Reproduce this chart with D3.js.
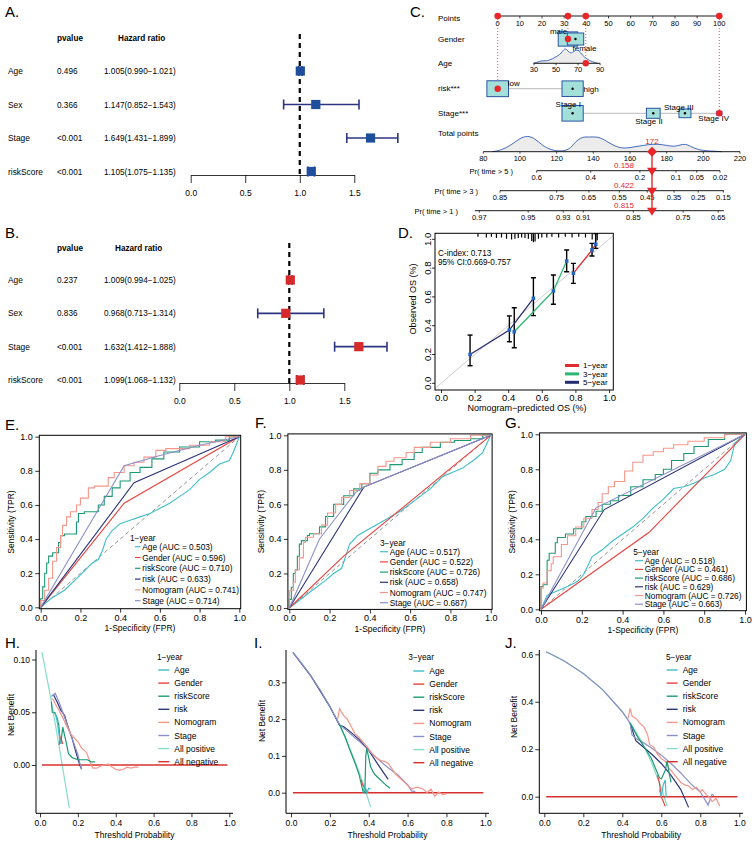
<!DOCTYPE html>
<html><head><meta charset="utf-8">
<script src="https://cdn.jsdelivr.net/npm/d3@7"></script>
<style>body{margin:0;background:#fff}</style>
</head><body><svg id="c" width="756" height="842" xmlns="http://www.w3.org/2000/svg"></svg>
<script>
// ---------------- DATA ----------------
// Forest plots (A: univariate, B: multivariate)
const forestVars = ["Age","Sex","Stage","riskScore"];
const uniP = ["0.496","0.366","<0.001","<0.001"];
const uniHR = [1.005,1.147,1.649,1.105];
const uniLow = [0.990,0.852,1.431,1.075];
const uniHigh = [1.021,1.543,1.899,1.135];
const multiP = ["0.237","0.836","<0.001","<0.001"];
const multiHR = [1.009,0.968,1.632,1.099];
const multiLow = [0.994,0.713,1.412,1.068];
const multiHigh = [1.025,1.314,1.888,1.132];
const hrTicks = [0,0.5,1,1.5];

// Nomogram (C)
const pointsTicks = [0,10,20,30,40,50,60,70,80,90,100];
const genderLevels = ["male","female"];
const genderPoints = [31.7,35.1];
const genderWeight = [0.42,0.30];
const ageTicks = [30,50,70,90];
const ageToPoints = [16.4,46.2];          // points at age 30 and age 90
const ageDensity = [[29,0],[32,0.05],[35,0.12],[38,0.18],[41,0.15],[44,0.22],[47,0.3],[50,0.45],[53,0.55],[56,0.8],[58,1.0],[60,0.9],[62,0.72],[64,0.68],[66,0.78],[68,0.88],[70,0.9],[72,0.72],[74,0.55],[76,0.4],[78,0.3],[80,0.2],[83,0.1],[86,0.05],[88,0]];
const riskLevels = ["low","high"];
const riskPoints = [0,33.8];
const riskWeight = [0.52,0.50];
const stageLevels = ["Stage I","Stage II","Stage III","Stage IV"];
const stagePoints = [33.8,70.2,84.5,100];
const stageWeight = [0.50,0.21,0.16,0.03];
const totalTicks = [80,100,120,140,160,180,200,220];
const totalDensity = [[85,0],[90,0.1],[95,0.4],[100,0.85],[104,1.0],[108,0.85],[112,0.4],[117,0.1],[122,0.02],[127,0.12],[130,0.6],[134,0.95],[138,0.9],[142,0.95],[146,0.75],[150,0.45],[155,0.2],[160,0.25],[165,0.35],[170,0.45],[175,0.48],[180,0.4],[184,0.3],[188,0.45],[191,0.48],[195,0.2],[200,0.06],[205,0.04],[210,0]];
const selected = {gender:31.7, age:77, risk:0, stage:100, total:172};
const pr5Ticks = [0.6,0.4,0.2,0.1,0.05,0.02];
const pr5Pts = [109.1,138.6,165.4,185.1,196.4,209.1];
const pr3Ticks = [0.85,0.75,0.65,0.55,0.45,0.35,0.25,0.15];
const pr3Pts = [89.1,120,137.6,154.2,169.4,184,197.2,210.9];
const pr1Ticks = [0.97,0.95,0.93,0.91,0.85,0.75,0.65];
const pr1Pts = [77.8,104.5,123.6,134.5,161.8,189,208.1];
const prRange = [[109.1,209.1],[89.1,211.2],[75.4,211.2]];
const prLabels = ["Pr( time > 5 )","Pr( time > 3 )","Pr( time > 1 )"];
const prValues = ["0.158","0.422","0.815"];

// Calibration (D): [predicted, observed, lower, upper]
const cal1 = [[0.788,0.764,0.694,0.833],[0.899,0.926,0.884,0.972],[0.921,0.965,0.937,1.04]];
const cal3 = [[0.436,0.358,0.247,0.525],[0.669,0.641,0.549,0.752],[0.748,0.849,0.775,0.926]];
const cal5 = [[0.173,0.20,0.122,0.335],[0.407,0.37,0.289,0.468],[0.55,0.59,0.47,0.733]];
const calRug = [[0.22,0.2],[0.27,0.3],[0.3,0.2],[0.33,0.4],[0.36,0.3],[0.39,0.5],[0.42,0.6],[0.44,0.5],[0.46,0.4],[0.48,0.3],[0.5,0.4],[0.52,0.5],[0.54,0.8],[0.55,1.0],[0.56,0.9],[0.58,0.5],[0.6,0.3],[0.63,0.3],[0.66,0.2],[0.7,0.3],[0.74,0.2],[0.78,0.3],[0.82,0.2],[0.86,0.3],[0.9,0.6],[0.92,0.9],[0.93,0.7]];
const calTicks = [0,0.2,0.4,0.6,0.8,1.0];
const cIndexText = ["C-index:  0.713","95% CI:0.669-0.757"];

// ROC (E,F,G)
const modelNames = ["Age","Gender","riskScore","risk","Nomogram","Stage"];
const auc1 = ["0.503","0.596","0.710","0.633","0.741","0.714"];
const auc3 = ["0.517","0.522","0.726","0.658","0.747","0.687"];
const auc5 = ["0.518","0.461","0.686","0.629","0.726","0.663"];
const rocTicks = [0,0.2,0.4,0.6,0.8,1.0];

const roc1Age = [[0,0],[0.05,0.05],[0.12,0.1],[0.2,0.19],[0.26,0.26],[0.29,0.28],[0.31,0.33],[0.33,0.4],[0.36,0.45],[0.4,0.49],[0.45,0.51],[0.5,0.53],[0.55,0.55],[0.6,0.58],[0.65,0.61],[0.7,0.65],[0.75,0.69],[0.8,0.75],[0.85,0.79],[0.9,0.84],[0.95,0.86],[0.97,0.91],[1,1]];
const roc1Gender = [[0,0],[0.42,0.61],[1,1]];
const roc1RiskScore = [[0,0],[0.01,0.05],[0.02,0.12],[0.03,0.2],[0.04,0.26],[0.06,0.3],[0.09,0.32],[0.1,0.38],[0.12,0.42],[0.18,0.43],[0.19,0.5],[0.22,0.55],[0.29,0.56],[0.32,0.6],[0.36,0.65],[0.4,0.7],[0.45,0.74],[0.5,0.79],[0.56,0.82],[0.62,0.87],[0.7,0.91],[0.8,0.94],[0.88,0.97],[0.95,0.98],[1,1]];
const roc1Risk = [[0,0],[0.47,0.73],[1,1]];
const roc1Nomogram = [[0,0],[0.02,0.04],[0.04,0.1],[0.06,0.17],[0.08,0.27],[0.1,0.35],[0.11,0.42],[0.13,0.48],[0.15,0.53],[0.18,0.56],[0.2,0.6],[0.24,0.64],[0.27,0.7],[0.34,0.71],[0.37,0.76],[0.42,0.79],[0.47,0.83],[0.52,0.85],[0.58,0.88],[0.63,0.92],[0.75,0.93],[0.85,0.95],[0.93,0.97],[1,1]];
const roc1Stage = [[0,0],[0.42,0.83],[0.6,0.89],[0.8,0.95],[1,1]];

const roc3Age = [[0,0],[0.1,0.09],[0.18,0.16],[0.22,0.2],[0.26,0.23],[0.28,0.3],[0.3,0.37],[0.34,0.42],[0.4,0.46],[0.46,0.5],[0.55,0.56],[0.62,0.62],[0.7,0.69],[0.76,0.76],[0.82,0.79],[0.86,0.81],[0.92,0.86],[0.96,0.9],[1,1]];
const roc3Gender = [[0,0],[0.27,0.3],[1,1]];
const roc3RiskScore = [[0,0],[0.01,0.05],[0.02,0.12],[0.03,0.2],[0.04,0.22],[0.05,0.3],[0.06,0.37],[0.09,0.39],[0.1,0.42],[0.15,0.43],[0.18,0.47],[0.22,0.53],[0.27,0.6],[0.32,0.65],[0.36,0.69],[0.4,0.72],[0.44,0.78],[0.5,0.8],[0.56,0.83],[0.62,0.86],[0.66,0.9],[0.75,0.93],[0.82,0.96],[0.9,0.97],[0.96,0.98],[1,1]];
const roc3Risk = [[0,0],[0.37,0.7],[1,1]];
const roc3Nomogram = [[0,0],[0.02,0.1],[0.03,0.15],[0.05,0.22],[0.07,0.29],[0.08,0.38],[0.12,0.41],[0.16,0.43],[0.19,0.48],[0.23,0.55],[0.26,0.6],[0.3,0.64],[0.35,0.68],[0.4,0.72],[0.44,0.77],[0.48,0.82],[0.52,0.85],[0.58,0.87],[0.62,0.9],[0.7,0.93],[0.8,0.96],[0.9,0.98],[1,1]];
const roc3Stage = [[0,0],[0.15,0.4],[0.25,0.55],[0.33,0.67],[0.37,0.7],[1,1]];

const roc5Age = [[0,0],[0.03,0.08],[0.07,0.1],[0.13,0.13],[0.18,0.16],[0.21,0.2],[0.23,0.25],[0.25,0.3],[0.3,0.34],[0.35,0.39],[0.4,0.43],[0.45,0.47],[0.5,0.52],[0.55,0.58],[0.6,0.63],[0.65,0.69],[0.7,0.7],[0.75,0.72],[0.8,0.75],[0.85,0.77],[0.9,0.8],[0.93,0.85],[0.95,0.95],[1,1]];
const roc5Gender = [[0,0],[0.53,0.44],[1,1]];
const roc5RiskScore = [[0,0],[0.01,0.13],[0.03,0.14],[0.04,0.28],[0.07,0.32],[0.08,0.38],[0.12,0.41],[0.16,0.43],[0.2,0.46],[0.22,0.5],[0.27,0.53],[0.3,0.56],[0.34,0.6],[0.38,0.62],[0.44,0.65],[0.5,0.7],[0.56,0.74],[0.6,0.77],[0.64,0.8],[0.7,0.85],[0.75,0.89],[0.82,0.93],[0.9,0.97],[1,1]];
const roc5Risk = [[0,0],[0.31,0.57],[1,1]];
const roc5Nomogram = [[0,0],[0.01,0.12],[0.03,0.15],[0.05,0.22],[0.06,0.26],[0.1,0.3],[0.13,0.37],[0.17,0.42],[0.21,0.47],[0.25,0.52],[0.28,0.57],[0.3,0.61],[0.33,0.66],[0.36,0.7],[0.41,0.73],[0.45,0.79],[0.5,0.84],[0.55,0.88],[0.6,0.9],[0.65,0.92],[0.72,0.94],[0.8,0.96],[0.9,0.98],[1,1]];
const roc5Stage = [[0,0],[0.27,0.58],[1,1]];

// DCA (H,I,J)
const dcaNames = ["Age","Gender","riskScore","risk","Nomogram","Stage","All positive","All negative"];
const dcaXTicks = [0,0.2,0.4,0.6,0.8,1.0];
const dcaNeg = [[0.01,0],[0.99,0]];

const dca1Age = [[0.08,0.05],[0.09,0.042],[0.1,0.03],[0.11,0.02]];
const dca1Gender = [[0.1,0.019],[0.11,0.026],[0.12,0.02]];
const dca1RiskScore = [[0.06,0.06],[0.065,0.05],[0.075,0.05],[0.09,0.045],[0.1,0.037],[0.105,0.025],[0.11,0.02],[0.12,0.036],[0.13,0.028],[0.14,0.02],[0.15,0.011],[0.17,0.007],[0.2,0.005],[0.25,0.005],[0.27,0.003],[0.29,0.003]];
const dca1Risk = [[0.07,0.067],[0.09,0.06],[0.11,0.052],[0.13,0.047],[0.15,0.035],[0.17,0.025],[0.19,0.012],[0.21,0.0],[0.22,-0.004]];
const dca1Nomogram = [[0.06,0.063],[0.07,0.062],[0.08,0.058],[0.1,0.052],[0.12,0.045],[0.14,0.037],[0.16,0.03],[0.18,0.026],[0.2,0.022],[0.22,0.016],[0.24,0.013],[0.25,0.01],[0.26,0.005],[0.27,0.0],[0.28,-0.003],[0.3,-0.003],[0.32,-0.001],[0.34,0.0],[0.36,0.001],[0.38,-0.002],[0.4,-0.004],[0.42,-0.005],[0.44,-0.004],[0.46,-0.002],[0.48,-0.003],[0.5,-0.002],[0.52,-0.002]];
const dca1Stage = [[0.06,0.065],[0.08,0.068],[0.1,0.06],[0.12,0.05],[0.14,0.04],[0.16,0.03],[0.18,0.02],[0.2,0.01],[0.21,0.002],[0.22,-0.004]];
const dca1AllPos = [[0.01,0.107],[0.05,0.07],[0.1,0.019],[0.12,-0.003],[0.155,-0.041]];
const dca1YTicks = [0,0.05,0.10];

const dca3Age = [[0.37,0.0],[0.38,0.02],[0.39,0.0],[0.4,0.012],[0.41,0.01]];
const dca3Gender = [[0.36,0.035],[0.37,0.02],[0.39,0.005],[0.4,0.0]];
const dca3RiskScore = [[0.25,0.185],[0.28,0.15],[0.3,0.12],[0.33,0.08],[0.35,0.05],[0.37,0.005],[0.38,0.0],[0.385,0.1],[0.39,0.12],[0.4,0.095],[0.41,0.07],[0.43,0.05],[0.45,0.04],[0.47,0.03],[0.49,0.02],[0.51,0.012]];
const dca3Risk = [[0.01,0.381],[0.1,0.319],[0.2,0.234],[0.25,0.183],[0.27,0.18],[0.3,0.168],[0.35,0.145],[0.4,0.115],[0.45,0.075],[0.5,0.036]];
const dca3Nomogram = [[0.24,0.2],[0.25,0.228],[0.27,0.21],[0.29,0.2],[0.31,0.18],[0.33,0.16],[0.35,0.15],[0.37,0.138],[0.4,0.12],[0.42,0.105],[0.44,0.095],[0.46,0.088],[0.48,0.085],[0.5,0.08],[0.52,0.065],[0.54,0.05],[0.56,0.04],[0.58,0.03],[0.6,0.02],[0.62,0.01],[0.65,0.015],[0.68,0.01],[0.7,0.0],[0.72,0.01],[0.74,-0.01],[0.76,0.002],[0.78,-0.005],[0.8,-0.003]];
const dca3Stage = [[0.01,0.381],[0.05,0.355],[0.1,0.319],[0.15,0.279],[0.2,0.234],[0.25,0.185],[0.3,0.163],[0.35,0.14],[0.4,0.115],[0.45,0.09],[0.5,0.068],[0.55,0.048],[0.6,0.022],[0.62,0.005],[0.64,0.003]];
const dca3AllPos = [[0.01,0.381],[0.05,0.355],[0.1,0.319],[0.15,0.279],[0.2,0.234],[0.25,0.183],[0.3,0.124],[0.35,0.057],[0.38,0.011],[0.41,-0.039]];
const dca3YTicks = [0,0.1,0.2,0.3];

const dca5Age = [[0.59,0.03],[0.6,0.0],[0.61,0.05],[0.62,0.07],[0.625,0.0]];
const dca5Gender = [[0.58,0.09],[0.59,0.06],[0.6,0.0],[0.62,-0.04]];
const dca5RiskScore = [[0.44,0.31],[0.48,0.25],[0.52,0.2],[0.55,0.16],[0.57,0.12],[0.59,0.08],[0.6,0.075],[0.62,0.11],[0.63,0.15],[0.64,0.1],[0.65,0.06]];
const dca5Risk = [[0.44,0.31],[0.47,0.235],[0.5,0.215],[0.55,0.18],[0.6,0.14],[0.65,0.09],[0.7,0.03],[0.74,-0.045]];
const dca5Nomogram = [[0.43,0.33],[0.44,0.372],[0.45,0.34],[0.47,0.33],[0.49,0.31],[0.51,0.295],[0.53,0.26],[0.54,0.22],[0.56,0.21],[0.58,0.18],[0.6,0.16],[0.62,0.15],[0.64,0.12],[0.66,0.1],[0.68,0.08],[0.7,0.06],[0.72,0.05],[0.74,0.045],[0.76,0.03],[0.78,0.04],[0.8,0.02],[0.81,0.03],[0.83,0.01],[0.85,-0.005],[0.86,-0.02],[0.87,-0.015],[0.88,-0.005],[0.9,-0.04]];
const dca5Stage = [[0.01,0.611],[0.1,0.573],[0.2,0.519],[0.3,0.45],[0.4,0.358],[0.44,0.31],[0.45,0.26],[0.47,0.245],[0.5,0.232],[0.55,0.205],[0.6,0.175],[0.65,0.14],[0.7,0.1],[0.75,0.055],[0.8,0.02],[0.84,-0.035],[0.86,0.01],[0.87,0.005]];
const dca5AllPos = [[0.01,0.611],[0.1,0.573],[0.2,0.519],[0.3,0.45],[0.4,0.358],[0.45,0.3],[0.5,0.23],[0.55,0.144],[0.6,0.037],[0.63,-0.04]];
const dca5YTicks = [0,0.2,0.4,0.6];

// ---------------- STYLE ----------------
const FONT = "'Liberation Sans', Arial, Helvetica, sans-serif";
const modelColors = ["#3dbfc8","#e8443f","#1d9a74","#2b3578","#f5968b","#8c90c6"];
const dcaColors = modelColors.concat(["#86dcc8","#d8302f"]);
const svg = d3.select("#c").attr("font-family", FONT);

function txt(x,y,s,o={}){
  const t = svg.append("text").attr("x",x).attr("y",y).text(s)
    .attr("font-size",o.size||8).attr("text-anchor",o.anchor||"start")
    .attr("fill",o.fill||"#000");
  if(o.weight) t.attr("font-weight",o.weight);
  if(o.rotate) t.attr("transform",`rotate(${o.rotate},${x},${y})`);
  return t;
}
function styleAxis(g,size){
  g.attr("font-family",FONT).attr("font-size",size);
  g.selectAll("path,line").attr("stroke","#000").attr("stroke-width",0.8);
  g.selectAll("text").attr("fill","#000");
}

// panel letters
[["A.",5,17],["B.",5,238],["C.",410,17],["D.",398,238],["E.",5,430],["F.",255,428],["G.",505,428],["H.",5,648],["I.",254,648],["J.",505,648]]
  .forEach(d=>txt(d[1],d[2],d[0],{size:15}));

// ---------------- FOREST ----------------
function forest(c){
  const x = d3.scaleLinear().domain([0,1.5]).range([c.x0,c.x1]);
  const y = d3.scalePoint().domain(forestVars).range([c.r0,c.r1]);
  const fmt = d3.format(".3f");
  txt(57,c.headY,"pvalue",{weight:"bold",size:8.2});
  txt(c.hrHeadX,c.headY,"Hazard ratio",{weight:"bold",size:8.2});
  forestVars.forEach((v,i)=>{
    const yy = y(v)+3;
    txt(8,yy,v,{size:8.4}); txt(57,yy,c.p[i],{size:8.2});
    txt(104,yy,`${fmt(c.hr[i])}(${fmt(c.lo[i])}\u2212${fmt(c.hi[i])})`,{size:8.2});
  });
  svg.append("line").attr("x1",x(1)).attr("x2",x(1)).attr("y1",c.dashTop).attr("y2",c.axisY)
    .attr("stroke","#000").attr("stroke-width",2.2).attr("stroke-dasharray","5,4");
  const g = svg.append("g").attr("transform",`translate(0,${c.axisY})`)
    .call(d3.axisBottom(x).tickValues(hrTicks).tickFormat(d3.format(".1f")).tickSize(8).tickPadding(7).tickSizeOuter(0));
  styleAxis(g,8.5);
  forestVars.forEach((v,i)=>{
    const yy = y(v);
    svg.append("line").attr("x1",x(c.lo[i])).attr("x2",x(c.hi[i])).attr("y1",yy).attr("y2",yy)
      .attr("stroke","#2d3580").attr("stroke-width",1.6);
    [c.lo[i],c.hi[i]].forEach(e=>svg.append("line").attr("x1",x(e)).attr("x2",x(e)).attr("y1",yy-5).attr("y2",yy+5)
      .attr("stroke","#2d3580").attr("stroke-width",1.6));
    svg.append("rect").attr("x",x(c.hr[i])-4.6).attr("y",yy-4.6).attr("width",9.2).attr("height",9.2).attr("fill",c.color);
  });
}
forest({x0:190.7,x1:354.3,r0:71,r1:171.5,headY:41,hrHeadX:118,dashTop:34,axisY:175,
  p:uniP,hr:uniHR,lo:uniLow,hi:uniHigh,color:"#1f4f9c"});
forest({x0:179.3,x1:344.3,r0:280,r1:380,headY:251,hrHeadX:115,dashTop:243,axisY:383,
  p:multiP,hr:multiHR,lo:multiLow,hi:multiHigh,color:"#d62a2a"});

// ---------------- NOMOGRAM ----------------
(function(){
  const xPts = d3.scaleLinear().domain([0,100]).range([497.7,719.3]);
  const xTot = d3.scaleLinear().domain([80,220]).range([483.3,740]);
  const agePts = d3.scaleLinear().domain([30,90]).range(ageToPoints);
  const ageX = a=>xPts(agePts(a));
  const red = "#e8262a", boxFill = "#a3e0da", boxStroke = "#2c54a4";
  const rowY = {points:16, gender:39, age:63.3, risk:88.7, stage:113.3, total:151.7, pr:[170.7,190.7,210.7]};
  [["Points",21],["Gender",42],["Age",66],["risk***",91],["Stage***",116],["Total points",136]].forEach(d=>txt(438,d[1],d[0]));
  svg.append("line").attr("x1",xPts(0)).attr("x2",xPts(100)).attr("y1",rowY.points).attr("y2",rowY.points).attr("stroke","#000").attr("stroke-width",0.9);
  pointsTicks.forEach(t=>{
    svg.append("line").attr("x1",xPts(t)).attr("x2",xPts(t)).attr("y1",rowY.points).attr("y2",rowY.points+2.5).attr("stroke","#000").attr("stroke-width",0.7);
    txt(xPts(t),rowY.points+10,t,{size:7.5,anchor:"middle"});
  });
  [[0,rowY.risk],[selected.gender,rowY.gender],[agePts(selected.age),rowY.age],[selected.stage,rowY.stage]].forEach(d=>{
    svg.append("line").attr("x1",xPts(d[0])).attr("x2",xPts(d[0])).attr("y1",rowY.points).attr("y2",d[1])
      .attr("stroke",red).attr("stroke-width",0.8).attr("stroke-dasharray","1,2");
  });
  function levelRow(levels,pts,wts,yy,labelPos){
    svg.append("line").attr("x1",xPts(d3.min(pts))).attr("x2",xPts(d3.max(pts))).attr("y1",yy).attr("y2",yy).attr("stroke","#bbb").attr("stroke-width",1);
    levels.forEach((l,i)=>{
      const w = 30*Math.sqrt(wts[i]), h = 22*Math.sqrt(wts[i]);
      svg.append("rect").attr("x",xPts(pts[i])-w/2).attr("y",yy-h/2).attr("width",w).attr("height",h)
        .attr("fill",boxFill).attr("stroke",boxStroke).attr("stroke-width",1);
      svg.append("circle").attr("cx",xPts(pts[i])).attr("cy",yy).attr("r",1.2).attr("fill","#000");
      const lp = labelPos[i];
      txt(xPts(pts[i])+lp[0],yy+lp[1],l,{size:8,anchor:lp[2]||"start"});
    });
  }
  levelRow(genderLevels,genderPoints,genderWeight,rowY.gender,[[-18,-5],[-3,12]]);
  levelRow(riskLevels,riskPoints,riskWeight,rowY.risk,[[10,-3],[11,3.5]]);
  levelRow(stageLevels,stagePoints,stageWeight,rowY.stage,[[-17,-6.5],[-18,10.5],[-21,-3.5],[-21,7.5]]);
  const ageArea = d3.area().x(d=>ageX(d[0])).y0(rowY.age).y1(d=>rowY.age-15*d[1]).curve(d3.curveBasis);
  svg.append("path").attr("d",ageArea(ageDensity)).attr("fill","#ececec");
  svg.append("path").attr("d",ageArea.lineY1()(ageDensity)).attr("fill","none").attr("stroke","#2f5bb7").attr("stroke-width",0.9);
  svg.append("line").attr("x1",ageX(30)).attr("x2",ageX(90)).attr("y1",rowY.age).attr("y2",rowY.age).attr("stroke","#000").attr("stroke-width",0.9);
  ageTicks.forEach(t=>{
    svg.append("line").attr("x1",ageX(t)).attr("x2",ageX(t)).attr("y1",rowY.age).attr("y2",rowY.age+2).attr("stroke","#000").attr("stroke-width",0.7);
    txt(ageX(t),rowY.age+9,t,{size:7.5,anchor:"middle"});
  });
  const totArea = d3.area().x(d=>xTot(d[0])).y0(rowY.total).y1(d=>rowY.total-16*d[1]).curve(d3.curveBasis);
  svg.append("path").attr("d",totArea(totalDensity)).attr("fill","#ececec");
  svg.append("path").attr("d",totArea.lineY1()(totalDensity)).attr("fill","none").attr("stroke","#2f5bb7").attr("stroke-width",0.9);
  svg.append("line").attr("x1",xTot(80)).attr("x2",xTot(220)).attr("y1",rowY.total).attr("y2",rowY.total).attr("stroke","#000").attr("stroke-width",0.9);
  totalTicks.forEach(t=>{
    svg.append("line").attr("x1",xTot(t)).attr("x2",xTot(t)).attr("y1",rowY.total).attr("y2",rowY.total+2).attr("stroke","#000").attr("stroke-width",0.7);
    txt(xTot(t),rowY.total+9,t,{size:7.5,anchor:"middle"});
  });
  const prTicks = [pr5Ticks,pr3Ticks,pr1Ticks], prPts=[pr5Pts,pr3Pts,pr1Pts], labelEnd=[513,478,458];
  prTicks.forEach((tk,k)=>{
    const yy = rowY.pr[k];
    svg.append("line").attr("x1",xTot(prRange[k][0])).attr("x2",xTot(prRange[k][1])).attr("y1",yy).attr("y2",yy).attr("stroke","#000").attr("stroke-width",0.9);
    tk.forEach((t,i)=>{
      svg.append("line").attr("x1",xTot(prPts[k][i])).attr("x2",xTot(prPts[k][i])).attr("y1",yy).attr("y2",yy+2).attr("stroke","#000").attr("stroke-width",0.7);
      txt(xTot(prPts[k][i]),yy+9,t,{size:7.5,anchor:"middle"});
    });
    txt(labelEnd[k],yy+3,prLabels[k],{size:7.5,anchor:"end"});
  });
  const tx = xTot(selected.total);
  svg.append("line").attr("x1",tx).attr("x2",tx).attr("y1",rowY.total).attr("y2",rowY.pr[2]+1).attr("stroke",red).attr("stroke-width",1.4);
  svg.append("path").attr("d",`M${tx},${rowY.total-5}L${tx+5},${rowY.total}L${tx},${rowY.total+5}L${tx-5},${rowY.total}Z`).attr("fill",red);
  txt(tx,rowY.total-8,selected.total,{size:8,anchor:"middle",fill:red});
  rowY.pr.forEach((yy,k)=>{
    svg.append("path").attr("d",`M${tx-5},${yy-3}L${tx+5},${yy-3}L${tx},${yy+5}Z`).attr("fill",red);
    txt(tx-28,yy-2.5,prValues[k],{size:8,anchor:"middle",fill:red});
  });
  [0,selected.gender,agePts(selected.age),selected.stage].forEach(p=>
    svg.append("circle").attr("cx",xPts(p)).attr("cy",rowY.points).attr("r",3.3).attr("fill",red));
  [[selected.gender,rowY.gender],[agePts(selected.age),rowY.age],[selected.risk,rowY.risk],[selected.stage,rowY.stage]].forEach(d=>
    svg.append("circle").attr("cx",xPts(d[0])).attr("cy",d[1]).attr("r",3.2).attr("fill",red));
})();

// ---------------- CALIBRATION ----------------
(function(){
  const x = d3.scaleLinear().domain([0,1]).range([441,609]);
  const y = d3.scaleLinear().domain([0,1]).range([383.3,239.3]);
  const bx0=435,bx1=613.3,by0=233.3,by1=390;
  svg.append("clipPath").attr("id","calclip").append("rect").attr("x",bx0).attr("y",by0).attr("width",bx1-bx0).attr("height",by1-by0);
  const gc = svg.append("g").attr("clip-path","url(#calclip)");
  gc.append("line").attr("x1",x(-0.1)).attr("y1",y(-0.1)).attr("x2",x(1.2)).attr("y2",y(1.2)).attr("stroke","#cfcfcf").attr("stroke-width",1);
  calRug.forEach(d=>gc.append("line").attr("x1",x(d[0])).attr("x2",x(d[0])).attr("y1",by0).attr("y2",by0+2+7*d[1]).attr("stroke","#000").attr("stroke-width",1.2));
  const ln = d3.line().x(d=>x(d[0])).y(d=>y(d[1]));
  const series = [[cal1,"#e32b2f"],[cal3,"#2bb673"],[cal5,"#262d6e"]];
  series.forEach(s=>{
    s[0].forEach(d=>{
      gc.append("line").attr("x1",x(d[0])).attr("x2",x(d[0])).attr("y1",y(d[2])).attr("y2",y(d[3])).attr("stroke","#000").attr("stroke-width",1.4);
      [d[2],d[3]].forEach(e=>gc.append("line").attr("x1",x(d[0])-2.5).attr("x2",x(d[0])+2.5).attr("y1",y(e)).attr("y2",y(e)).attr("stroke","#000").attr("stroke-width",1.4));
    });
  });
  series.forEach(s=>gc.append("path").attr("d",ln(s[0])).attr("fill","none").attr("stroke",s[1]).attr("stroke-width",1.3));
  series.forEach(s=>s[0].forEach(d=>gc.append("rect").attr("x",x(d[0])-1.8).attr("y",y(d[1])-1.8).attr("width",3.6).attr("height",3.6).attr("fill","#2466c2")));
  svg.append("rect").attr("x",bx0).attr("y",by0).attr("width",bx1-bx0).attr("height",by1-by0).attr("fill","none").attr("stroke","#000").attr("stroke-width",1);
  const gx = svg.append("g").attr("transform",`translate(0,${by1})`).call(d3.axisBottom(x).tickValues(calTicks).tickFormat(d3.format(".1f")).tickSize(3).tickPadding(1).tickSizeOuter(0));
  styleAxis(gx,9.5); gx.select(".domain").remove();
  calTicks.forEach(t=>{
    svg.append("line").attr("x1",bx0).attr("x2",bx0-3).attr("y1",y(t)).attr("y2",y(t)).attr("stroke","#000").attr("stroke-width",0.8);
    txt(431,y(t),d3.format(".1f")(t),{size:9.5,anchor:"middle",rotate:-90});
  });
  txt(527,411,"Nomogram\u2212predicted OS (%)",{size:9,anchor:"middle"});
  txt(416,299,"Observed OS (%)",{size:9,anchor:"middle",rotate:-90});
  txt(438,256,cIndexText[0],{size:8.2});
  txt(438,265,cIndexText[1],{size:8.2});
  ["1\u2212year","3\u2212year","5\u2212year"].forEach((l,i)=>{
    const yy = 365.5+8.4*i;
    svg.append("line").attr("x1",565).attr("x2",579).attr("y1",yy).attr("y2",yy).attr("stroke",series[i][1]).attr("stroke-width",3);
    txt(583,yy+2.8,l,{size:8});
  });
})();

// ---------------- ROC ----------------
function rocPanel(p){
  const x = d3.scaleLinear().domain([0,1]).range([p.x0,p.x1]);
  const y = d3.scaleLinear().domain([0,1]).range([p.y0,p.y1]);
  const pad = 1.4;
  svg.append("line").attr("x1",x(0)).attr("y1",y(0)).attr("x2",x(1)).attr("y2",y(1)).attr("stroke","#8a8a8a").attr("stroke-width",0.9).attr("stroke-dasharray","4,3");
  p.series.forEach((s,i)=>{
    const ln = d3.line().x(d=>x(d[0])).y(d=>y(d[1])).curve(s.step?d3.curveStepBefore:d3.curveLinear);
    svg.append("path").attr("d",ln(s.data)).attr("fill","none").attr("stroke",modelColors[i]).attr("stroke-width",1.1);
  });
  svg.append("rect").attr("x",x(0)-pad).attr("y",y(1)-pad).attr("width",x(1)-x(0)+2*pad).attr("height",y(0)-y(1)+2*pad)
    .attr("fill","none").attr("stroke","#000").attr("stroke-width",1);
  const gx = svg.append("g").attr("transform",`translate(0,${y(0)+pad})`).call(d3.axisBottom(x).tickValues(rocTicks).tickFormat(d3.format(".1f")).tickSize(4).tickPadding(1.5).tickSizeOuter(0));
  styleAxis(gx,9); gx.select(".domain").remove();
  const gy = svg.append("g").attr("transform",`translate(${x(0)-pad},0)`).call(d3.axisLeft(y).tickValues(rocTicks).tickFormat(d3.format(".1f")).tickSize(4).tickPadding(2.5).tickSizeOuter(0));
  styleAxis(gy,9); gy.select(".domain").remove();
  txt((p.x0+p.x1)/2,y(0)+24,"1-Specificity (FPR)",{size:8.5,anchor:"middle"});
  txt(p.ylabX,(p.y0+p.y1)/2,"Sensitivity (TPR)",{size:8.5,anchor:"middle",rotate:-90});
  txt(p.legX,p.legY+3,p.title,{size:8.3});
  modelNames.forEach((n,i)=>{
    const yy = p.legY+p.legGap0+p.legStep*i;
    const lx = p.legX+p.lineOff;
    svg.append("line").attr("x1",lx).attr("x2",lx+p.lineLen).attr("y1",yy).attr("y2",yy).attr("stroke",modelColors[i]).attr("stroke-width",1.2);
    txt(lx+p.lineLen+1.8,yy+3,`${n} (AUC = ${p.auc[i]})`,{size:8.3});
  });
}
function rocSeries(a,b,c,d,e,f){return [{data:a},{data:b},{data:c,step:true},{data:d},{data:e,step:true},{data:f}];}
rocPanel({x0:40.7,x1:239.3,y0:607.3,y1:436.7,ylabX:14,legX:130,legY:538.3,legGap0:8.4,legStep:10.8,lineOff:5,lineLen:5.5,title:"1\u2212year",auc:auc1,
  series:rocSeries(roc1Age,roc1Gender,roc1RiskScore,roc1Risk,roc1Nomogram,roc1Stage)});
rocPanel({x0:289.3,x1:490.7,y0:608,y1:435.3,ylabX:264,legX:380,legY:542.7,legGap0:9,legStep:10.2,lineOff:0,lineLen:8,title:"3\u2212year",auc:auc3,
  series:rocSeries(roc3Age,roc3Gender,roc3RiskScore,roc3Risk,roc3Nomogram,roc3Stage)});
rocPanel({x0:541,x1:745,y0:609.3,y1:434.3,ylabX:515,legX:633.3,legY:551.7,legGap0:9,legStep:8.7,lineOff:1.7,lineLen:8,title:"5\u2212year",auc:auc5,
  series:rocSeries(roc5Age,roc5Gender,roc5RiskScore,roc5Risk,roc5Nomogram,roc5Stage)});

// ---------------- DCA ----------------
function dcaPanel(p){
  const x = d3.scaleLinear().domain([0,1]).range([p.x0,p.x1]);
  const y = d3.scaleLinear().domain([0,p.yRef]).range([p.y0,p.yRefPx]);
  const ln = d3.line().x(d=>x(d[0])).y(d=>y(d[1]));
  const order = [6,7,3,5,4,2,1,0];
  order.forEach(i=>svg.append("path").attr("d",ln(p.series[i])).attr("fill","none").attr("stroke",dcaColors[i]).attr("stroke-width",i===7?1.6:1.2));
  svg.append("path").attr("d",`M${p.axX},650V${p.axY}H${p.axEnd}`).attr("fill","none").attr("stroke","#000").attr("stroke-width",1);
  const gx = svg.append("g").attr("transform",`translate(0,${p.axY})`).call(d3.axisBottom(x).tickValues(dcaXTicks).tickFormat(d3.format(".1f")).tickSize(4).tickPadding(3).tickSizeOuter(0));
  styleAxis(gx,8.5); gx.select(".domain").remove();
  const gy = svg.append("g").attr("transform",`translate(${p.axX},0)`).call(d3.axisLeft(y).tickValues(p.yTicks).tickFormat(d3.format(p.yFmt)).tickSize(4).tickPadding(2).tickSizeOuter(0));
  styleAxis(gy,8.5); gy.select(".domain").remove();
  txt((p.axX+p.axEnd)/2,837.5,"Threshold Probability",{size:8.5,anchor:"middle"});
  txt(p.ylabX,p.ylabY,"Net Benefit",{size:8.5,anchor:"middle",rotate:-90});
  txt(p.legX,p.legTitleY,p.title,{size:8.3});
  dcaNames.forEach((n,i)=>{
    const yy = p.legY0+13.1*i;
    svg.append("line").attr("x1",p.legLineX).attr("x2",p.legLineX+11).attr("y1",yy).attr("y2",yy).attr("stroke",dcaColors[i]).attr("stroke-width",1.4);
    txt(p.legLineX+16,yy+3,n,{size:8.5});
  });
}
dcaPanel({x0:40,x1:229.3,y0:765,yRef:0.1,yRefPx:659.5,axX:36,axY:813.3,axEnd:233,yTicks:dca1YTicks,yFmt:".2f",
  ylabX:14,ylabY:715,legX:157,legTitleY:659.5,legLineX:158.3,legY0:670,title:"1\u2212year",
  series:[dca1Age,dca1Gender,dca1RiskScore,dca1Risk,dca1Nomogram,dca1Stage,dca1AllPos,dcaNeg]});
dcaPanel({x0:291,x1:485.3,y0:792.7,yRef:0.3,yRefPx:682.3,axX:286,axY:813.3,axEnd:489,yTicks:dca3YTicks,yFmt:".1f",
  ylabX:265,ylabY:721,legX:408.3,legTitleY:660,legLineX:413.3,legY0:671,title:"3\u2212year",
  series:[dca3Age,dca3Gender,dca3RiskScore,dca3Risk,dca3Nomogram,dca3Stage,dca3AllPos,dcaNeg]});
dcaPanel({x0:544.3,x1:739.3,y0:796.7,yRef:0.6,yRefPx:654.3,axX:539.3,axY:813.3,axEnd:743,yTicks:dca5YTicks,yFmt:".1f",
  ylabX:517,ylabY:717,legX:666,legTitleY:659.5,legLineX:666.7,legY0:670,title:"5\u2212year",
  series:[dca5Age,dca5Gender,dca5RiskScore,dca5Risk,dca5Nomogram,dca5Stage,dca5AllPos,dcaNeg]});
</script></body></html>
